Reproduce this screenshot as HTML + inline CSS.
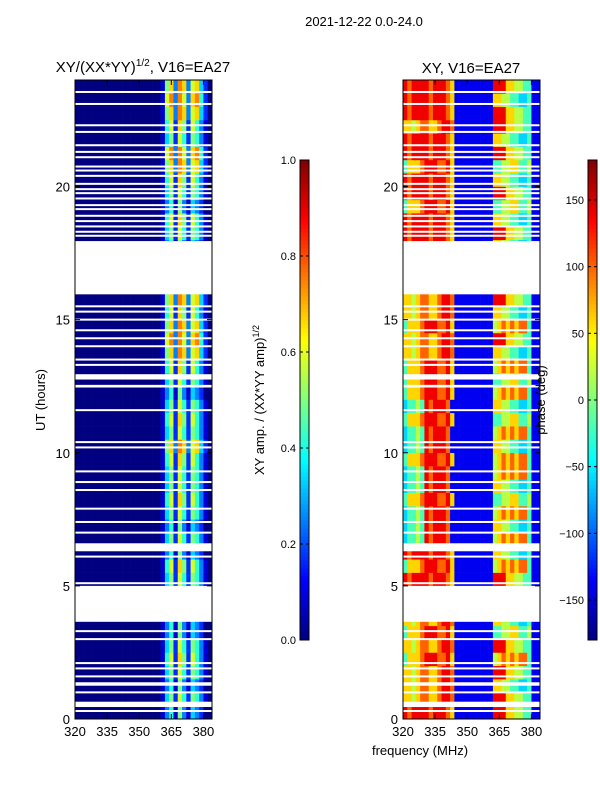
<!DOCTYPE html>
<html><head><meta charset="utf-8"><style>
body{margin:0;background:#fff;}
svg text{font-family:"Liberation Sans",sans-serif;fill:#000;}
</style></head><body>
<svg id="fig" width="600" height="800" xmlns="http://www.w3.org/2000/svg">
<rect width="600" height="800" fill="#fff"/>
<text x="364" y="26" font-size="13" text-anchor="middle">2021-12-22 0.0-24.0</text>
<text x="143" y="72" font-size="15" text-anchor="middle">XY/(XX*YY)<tspan font-size="10" dy="-6">1/2</tspan><tspan dy="6">, V16=EA27</tspan></text>
<text x="471" y="73" font-size="15" text-anchor="middle">XY, V16=EA27</text>
<text transform="translate(45,400) rotate(-90)" font-size="13" text-anchor="middle">UT (hours)</text>
<text x="420" y="755" font-size="13" text-anchor="middle">frequency (MHz)</text>
<text transform="translate(264,400) rotate(-90)" font-size="13" text-anchor="middle">XY amp. / (XX*YY amp)<tspan font-size="9" dy="-5">1/2</tspan></text>
<g id="layer"></g>
<text transform="translate(545,400) rotate(-90)" font-size="13" text-anchor="middle">phase (deg)</text>
</svg>
<script>
const tMin=0,tMax=24,fMin=320,fMax=384;
const yTicks=[0,5,10,15,20];
const xTicks=[320,335,350,365,380];
const ampTicks=[0.0,0.2,0.4,0.6,0.8,1.0];
const phaseTicks=[-150,-100,-50,0,50,100,150];
// amplitude rows (0.5 h each, 2 MHz channels), digit d -> d/12
const ampRows=[
"00000000000000000000135163143200",
"00000000000000000000146275265310","00000000000000000000135163143200","00000000000000000000146275265310",
"00000000000000000000157286275310","00000000000000000000146275265310","00000000000000000000135163143200","00000000000000000000135163143200",
"00000000000000000000135163143200","00000000000000000000135163143200",
"00000000000000000000146275265310","00000000000000000000157286275310","00000000000000000000135163143200",
"00000000000000000000146275265310","00000000000000000000135163143200","00000000000000000000146275265310","00000000000000000000157286275310",
"00000000000000000000146275265310","00000000000000000000146275265310","00000000000000000000157286275310","00000000000000000000168398378420",
"00000000000000000000146275265310","00000000000000000000157286275310","00000000000000000000146275265310","00000000000000000000135163143200",
"00000000000000000000146275265310","00000000000000000000157286275310","00000000000000000000168398378420","00000000000000000000179397389520",
"00000000000000000000168398378420","00000000000000000000157286275310","00000000000000000000168398378420",
"00000000000000000000135163143200","00000000000000000000135163143200","00000000000000000000135163143200","00000000000000000000135163143200",
"00000000000000000000146275265310","00000000000000000000157286275310","00000000000000000000135163143200","00000000000000000000146275265310",
"00000000000000000000157286275310","00000000000000000000168398378420","00000000000000000000179397389520","00000000000000000000146275265310",
"00000000000000000000157286275310","00000000000000000000168398378420","00000000000000000000179397389520","00000000000000000000168398378420"
];
// phase rows, digit d -> -180 + d*40
const phaseRows=[
"87888878887611111111188866554411","66567766788711111111188866554411","66567766788711111111166554433411","66567766788711111111188866554411",
"46667888778611111111156767677411","66567766788711111111188866554411","46667888778611111111144556644511","66567766788711111111166554433411",
"66567766788711111111166554433411","66567766788711111111166554433411",
"87888878887611111111188866554411","46667888778611111111156767677411","87888878887611111111166554433411",
"34454878887111111111156767677411","34454878887111111111166554433411","34454878887111111111156767677411","46667888778611111111144556644511",
"34454878887111111111166554433411","34454878887111111111156767677411","46667888778611111111156767677411","34454878887111111111166554433411",
"34454878887111111111156767677411","46667888778611111111144556644511","34454878887111111111166554433411","46667888778611111111156767677411",
"46667888778611111111144556644511","46667888778611111111156767677411","66567766788711111111166554433411","66567766788711111111188866554411",
"46667888778611111111156767677411","66567766788711111111166554433411","66567766788711111111188866554411",
"87888878887611111111166554433411","87888878887611111111166554433411","87888878887611111111166554433411","87888878887611111111166554433411",
"87888878887611111111188866554411","87888878887611111111166554433411","46667888778611111111144556644511","87888878887611111111188866554411",
"87888878887611111111166554433411","46667888778611111111144556644511","87888878887611111111188866554411","87888878887611111111166554433411",
"66567766788711111111188866554411","87888878887611111111188866554411","87888878887611111111166554433411","87888878887611111111188866554411"
];
// flagged (white) time ranges in hours
const gapStarts=[3.65,6.3,12.45,12.75,15.95,0.45,1.25];
const gapEnds=[5.0,6.6,12.55,12.95,17.95,0.65,1.38];
const thinLines=[23.55,23.1,22.3,22.05,21.55,21.3,21.1,20.75,20.6,20.4,20.1,19.9,19.75,19.55,19.3,19.15,18.9,18.7,18.5,18.3,18.15,15.5,15.3,15.0,14.6,14.3,14.0,13.5,13.3,11.6,10.4,10.2,9.3,8.9,8.6,7.9,7.4,7.0,6.1,5.1,3.3,3.0,2.1,1.9,1.6,1.0,0.3];

const NS="http://www.w3.org/2000/svg";
const layer=document.getElementById('layer');
function mk(t,a,p){const e=document.createElementNS(NS,t);for(const k in a)e.setAttribute(k,a[k]);(p||layer).appendChild(e);return e;}
function jet(v){v=Math.max(0,Math.min(1,v));
 const r=Math.max(0,Math.min(1,1.5-Math.abs(4*v-3))),g=Math.max(0,Math.min(1,1.5-Math.abs(4*v-2))),b=Math.max(0,Math.min(1,1.5-Math.abs(4*v-1)));
 return `rgb(${Math.round(r*255)},${Math.round(g*255)},${Math.round(b*255)})`;}
const Y0=719,Y1=80;
function yS(t){return Y0-(t-tMin)/(tMax-tMin)*(Y0-Y1);}
function panel(x0,x1,rows,toNorm,name){
 const xS=f=>x0+(f-fMin)/(fMax-fMin)*(x1-x0);
 const g=mk('g',{});
 
 
 const nR=rows.length,nC=rows[0].length,dt=(tMax-tMin)/nR,df=(fMax-fMin)/nC;
 rows.forEach((row,i)=>{for(let j=0;j<nC;j++){
  const xa=xS(fMin+j*df),xb=xS(fMin+(j+1)*df),ya=yS(tMin+(i+1)*dt),yb=yS(tMin+i*dt);
  const r=mk('rect',{x:xa,y:ya,width:xb-xa+0.3,height:yb-ya+0.3,fill:jet(toNorm(+row[j]))},g);
  
  
 }});
 gapStarts.forEach((s,k)=>{const r=mk('rect',{x:x0,y:yS(gapEnds[k]),width:x1-x0,height:yS(s)-yS(gapEnds[k]),fill:'#fff'},g);
  
  });
 thinLines.forEach(h=>{const r=mk('rect',{x:x0,y:yS(h)-1,width:x1-x0,height:2,fill:'#fff'},g);
  
  });
 mk('rect',{x:x0,y:Y1,width:x1-x0,height:Y0-Y1,fill:'none',stroke:'#000','stroke-width':1},g);
 yTicks.forEach(t=>{const y=yS(t);
  mk('line',{x1:x0,x2:x0+5,y1:y,y2:y,stroke:'#000'},g);mk('line',{x1:x1,x2:x1-5,y1:y,y2:y,stroke:'#000'},g);
  const tx=mk('text',{x:x0-5,y:y+5,'font-size':13,'text-anchor':'end'},g);tx.textContent=t;
  
  });
 xTicks.forEach(f=>{const x=xS(f);
  mk('line',{x1:x,x2:x,y1:Y0,y2:Y0-5,stroke:'#000'},g);mk('line',{x1:x,x2:x,y1:Y1,y2:Y1+5,stroke:'#000'},g);
  const tx=mk('text',{x:x,y:Y0+17,'font-size':13,'text-anchor':'middle'},g);tx.textContent=f;
  
  });
}
panel(75,212,ampRows,d=>d/12,'amplitude-heatmap');
panel(403,540,phaseRows,d=>(-180+d*40+180)/360,'phase-heatmap');

function colorbar(x,lo,hi,ticks,fmt,name){
 const g=mk('g',{});
 
 
 const top=160,bot=640,w=9,n=120;
 for(let i=0;i<n;i++){mk('rect',{x:x,y:bot-(i+1)*(bot-top)/n,width:w,height:(bot-top)/n+0.5,fill:jet((i+0.5)/n)},g);}
 mk('rect',{x:x,y:top,width:w,height:bot-top,fill:'none',stroke:'#000'},g);
 ticks.forEach(v=>{const y=bot-(v-lo)/(hi-lo)*(bot-top);
  mk('line',{x1:x,x2:x+3,y1:y,y2:y,stroke:'#000'},g);mk('line',{x1:x+w,x2:x+w-3,y1:y,y2:y,stroke:'#000'},g);
  const tx=mk('text',{x:x-4,y:y+4,'font-size':11,'text-anchor':'end'},g);tx.textContent=fmt(v);
  
  });
}
colorbar(300,0,1,ampTicks,v=>v.toFixed(1),'amplitude-colorbar');
colorbar(588,-180,180,phaseTicks,v=>v<0?'\u2212'+(-v):String(v),'phase-colorbar');
</script>
</body></html>
